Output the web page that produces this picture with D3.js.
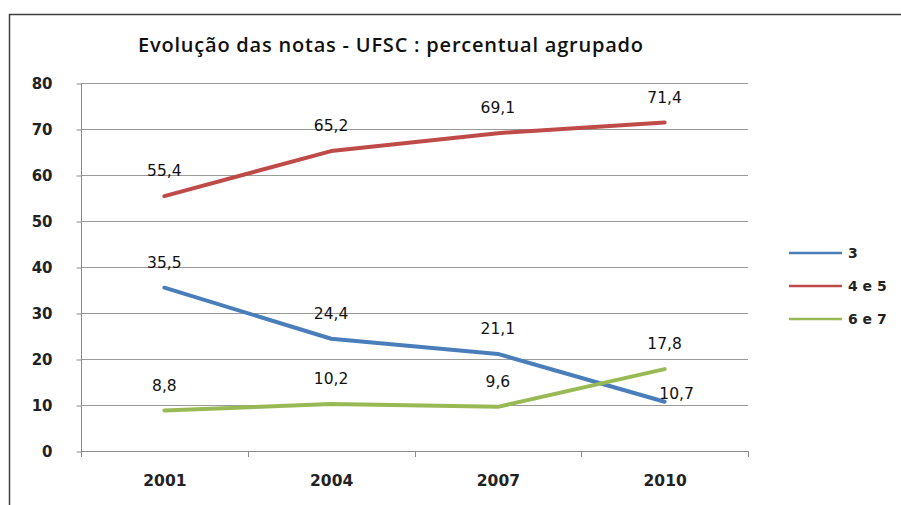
<!DOCTYPE html>
<html><head><meta charset="utf-8">
<script src="https://cdn.jsdelivr.net/npm/d3@7"></script>
<style>body{margin:0;background:#fff}svg{display:block}</style>
</head><body>
<svg id="c" width="901" height="505"></svg>
<script>
const categories = ["2001","2004","2007","2010"];
const seriesNames = ["3","4 e 5","6 e 7"];
const values3 = [35.5, 24.4, 21.1, 10.7];
const values45 = [55.4, 65.2, 69.1, 71.4];
const values67 = [8.8, 10.2, 9.6, 17.8];
const yTicks = [0,10,20,30,40,50,60,70,80];
const colors = ["#4a7ebb","#be4b48","#98b954"];
const title = "Evolução das notas - UFSC : percentual agrupado";

const series = [values3, values45, values67].map((v,i)=>({name:seriesNames[i], values:v, color:colors[i]}));
const svg = d3.select("#c");
const fmt = v => d3.format(".1f")(v).replace(".", ",");

// outer frame
svg.append("rect").attr("x",9.5).attr("y",14.5).attr("width",1000).attr("height",1000)
  .attr("fill","none").attr("stroke","#404040").attr("stroke-width",1.5);

const x = d3.scaleBand().domain(categories).range([81,748]);
const y = d3.scaleLinear().domain([0,80]).range([451,83]);

// gridlines
svg.append("g").selectAll("line").data(yTicks.filter(d=>d>0)).join("line")
  .attr("x1",81).attr("x2",748).attr("y1",d=>y(d)+0.5).attr("y2",d=>y(d)+0.5)
  .attr("stroke","#9a9a9a").attr("stroke-width",1);

// y axis
const ya = svg.append("g").attr("transform","translate(81.5,0.5)")
  .call(d3.axisLeft(y).tickValues(yTicks).tickSize(5).tickPadding(24));
ya.select(".domain").attr("stroke","#8a8a8a").attr("d","M0,"+y(80)+"V"+y(0));
ya.selectAll(".tick line").attr("stroke","#8a8a8a");
ya.selectAll("text").attr("font-family","'DejaVu Sans', sans-serif").attr("font-weight","bold")
  .attr("font-size","15px").attr("fill","#222");

// x axis
const xa = svg.append("g").attr("transform","translate(0.5,"+(y(0)+0.5)+")")
  .call(d3.axisBottom(x).tickSize(0).tickPadding(23));
xa.select(".domain").attr("stroke","#8a8a8a").attr("d","M81,0H748");
xa.selectAll("text").attr("font-family","'DejaVu Sans', sans-serif").attr("font-weight","bold")
  .attr("font-size","15.5px").attr("fill","#222");
xa.selectAll(".tick line").remove();
svg.append("g").selectAll("line").data(d3.range(categories.length+1)).join("line")
  .attr("x1",i=>Math.round(81+i*x.step())+0.5).attr("x2",i=>Math.round(81+i*x.step())+0.5)
  .attr("y1",y(0)).attr("y2",y(0)+6).attr("stroke","#8a8a8a");

// lines
const cx = c => x(c)+x.bandwidth()/2;
const line = d3.line().x((d,i)=>cx(categories[i])).y(d=>y(d));
svg.append("g").selectAll("path").data(series).join("path")
  .attr("d",d=>line(d.values)).attr("fill","none").attr("stroke",d=>d.color)
  .attr("stroke-width",4).attr("stroke-linejoin","round").attr("stroke-linecap","round");

// data labels
const lbl = svg.append("g").attr("font-family","'DejaVu Sans', sans-serif").attr("font-size","15.5px")
  .attr("fill","#111").attr("text-anchor","middle");
series.forEach((s,si)=>{
  s.values.forEach((v,i)=>{
    let dx=0, dy=-20;
    if(si===0 && i===3){dx=12; dy=-3;}
    lbl.append("text").attr("x",cx(categories[i])+dx).attr("y",y(v)+dy).text(fmt(v));
  });
});

// title
svg.append("text").attr("x",390.5).attr("y",52).attr("text-anchor","middle")
  .attr("font-family","'Open Sans', sans-serif").attr("font-weight","600").attr("font-size","20px")
  .attr("textLength",505).attr("lengthAdjust","spacing")
  .attr("fill","#111").text(title);

// legend
const lg = svg.append("g");
series.forEach((s,i)=>{
  const ly = 253 + i*33;
  lg.append("line").attr("x1",789).attr("x2",842).attr("y1",ly).attr("y2",ly)
    .attr("stroke",s.color).attr("stroke-width",2.5);
  lg.append("text").attr("x",848).attr("y",ly+5).attr("font-family","'DejaVu Sans', sans-serif")
    .attr("font-weight","bold").attr("font-size","14px").attr("fill","#222").text(s.name);
});
</script>
</body></html>
